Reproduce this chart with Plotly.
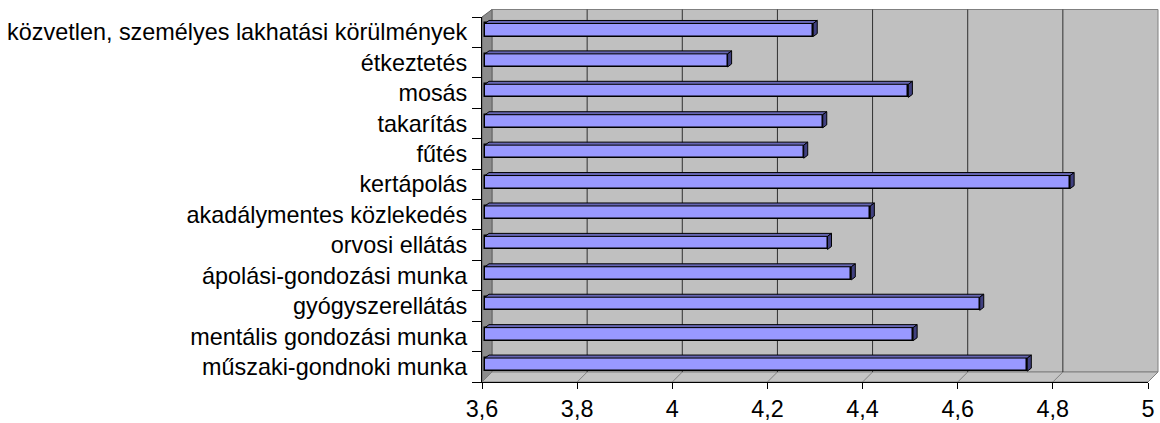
import plotly.graph_objects as go

# ---------------- data ----------------
categories = [
    "közvetlen, személyes lakhatási körülmények",
    "étkeztetés",
    "mosás",
    "takarítás",
    "fűtés",
    "kertápolás",
    "akadálymentes közlekedés",
    "orvosi ellátás",
    "ápolási-gondozási munka",
    "gyógyszerellátás",
    "mentális gondozási munka",
    "műszaki-gondnoki munka",
]
values = [4.29, 4.11, 4.49, 4.31, 4.27, 4.83, 4.41, 4.32, 4.37, 4.64, 4.50, 4.74]
x_ticks = [3.6, 3.8, 4.0, 4.2, 4.4, 4.6, 4.8, 5.0]
X_MIN, X_MAX = 3.6, 5.0

# ---------------- layout geometry / style ----------------
W, H = 1160, 423
L, R, T, B = 482, 12, 17, 41
plot_w = W - L - R
plot_h = H - T - B
n = len(categories)
ux = (X_MAX - X_MIN) / plot_w   # data units per pixel (x)
uy = n / plot_h                 # data units per pixel (y)

FONT = "Arial, Liberation Sans, sans-serif"
FS = 23.4
BAR_FILL = "#9999FF"
TOP_FILL = "#6666B3"
SIDE_FILL = "#404080"
WALL = "#C0C0C0"
LEFT_WALL = "#8C8C8C"
FLOOR = "#C4C4C4"

DX, DYB, DYT = 10, 10, 7.5       # wall depth offsets in px
px_x = DX / plot_w
py_b = DYB / plot_h
py_t = 1 + DYT / plot_h

BAR_W = 0.43
shift_x = 3 * ux
shift_y = 2.2 * uy
face_dx = 4 * ux
face_dy = 3 * uy

idx = list(range(n))
centers = [i - shift_y for i in idx]
base = X_MIN + shift_x

fig = go.Figure()

# front faces
fig.add_trace(go.Bar(
    orientation="h",
    y=centers,
    x=[v - X_MIN for v in values],
    base=base,
    width=BAR_W,
    marker=dict(color=BAR_FILL, line=dict(color="black", width=1.5)),
    hoverinfo="skip",
    showlegend=False,
))

# top and side faces (pseudo-3D) derived from the values
tx, ty, sx, sy = [], [], [], []
for c, v in zip(centers, values):
    x0 = base
    x1 = base + (v - X_MIN)
    top = c - BAR_W / 2
    bot = c + BAR_W / 2
    tx += [x0, x0 + face_dx, x1 + face_dx, x1, x0, None]
    ty += [top, top - face_dy, top - face_dy, top, top, None]
    sx += [x1, x1 + face_dx, x1 + face_dx, x1, x1, None]
    sy += [top, top - face_dy, bot - face_dy, bot, top, None]

fig.add_trace(go.Scatter(x=tx, y=ty, mode="lines", fill="toself",
                         fillcolor=TOP_FILL, line=dict(color="black", width=1),
                         hoverinfo="skip", showlegend=False))
fig.add_trace(go.Scatter(x=sx, y=sy, mode="lines", fill="toself",
                         fillcolor=SIDE_FILL, line=dict(color="black", width=1),
                         hoverinfo="skip", showlegend=False))

# ---------------- walls / floor / gridlines ----------------
shapes = []
shapes.append(dict(type="rect", xref="paper", yref="paper",
                   x0=px_x, x1=1 + px_x, y0=py_b, y1=py_t,
                   fillcolor=WALL, line=dict(color="#808080", width=1), layer="below"))
shapes.append(dict(type="path", xref="paper", yref="paper",
                   path=f"M 0 0 L {px_x} {py_b} L {px_x} {py_t} L 0 1 Z",
                   fillcolor=LEFT_WALL, line=dict(color="#606060", width=1), layer="below"))
shapes.append(dict(type="path", xref="paper", yref="paper",
                   path=f"M 0 0 L 1 0 L {1 + px_x} {py_b} L {px_x} {py_b} Z",
                   fillcolor=FLOOR, line=dict(color="#808080", width=1), layer="below"))
for t in x_ticks:
    p = (t - X_MIN) / (X_MAX - X_MIN)
    if 0 < p < 1:
        shapes.append(dict(type="line", xref="paper", yref="paper",
                           x0=p + px_x, x1=p + px_x, y0=py_b, y1=py_t,
                           line=dict(color="#303030", width=1), layer="below"))
    shapes.append(dict(type="line", xref="paper", yref="paper",
                       x0=p, x1=p + px_x, y0=0, y1=py_b,
                       line=dict(color="#808080", width=1), layer="below"))

fig.update_layout(
    width=W, height=H,
    margin=dict(l=L, r=R, t=T, b=B, pad=0, autoexpand=False),
    paper_bgcolor="white",
    plot_bgcolor="rgba(0,0,0,0)",
    separators=", ",
    font=dict(family=FONT, size=FS, color="black"),
    shapes=shapes,
    showlegend=False,
    bargap=0,
)
fig.update_xaxes(
    range=[X_MIN, X_MAX],
    tickvals=x_ticks,
    ticks="outside", ticklen=6, tickcolor="black", tickwidth=1,
    showline=True, linecolor="black", linewidth=1,
    showgrid=False, zeroline=False, automargin=False,
    tickfont=dict(family=FONT, size=FS, color="black"),
    fixedrange=True,
)
fig.update_yaxes(
    range=[n - 0.5, -0.5],
    tickvals=idx, ticktext=categories,
    ticks="outside", ticklen=9, tickcolor="rgba(0,0,0,0)",
    minor=dict(tickvals=[i - 0.5 for i in range(n + 1)], ticks="outside",
               ticklen=9, tickcolor="black", tickwidth=1, showgrid=False),
    showline=True, linecolor="black", linewidth=1,
    showgrid=False, zeroline=False, automargin=False,
    tickfont=dict(family=FONT, size=FS, color="black"),
    fixedrange=True,
)

fig.write_html(
    "out.html",
    config={"displayModeBar": False},
    post_script="document.body.style.margin='0';document.body.style.overflow='hidden';",
)
